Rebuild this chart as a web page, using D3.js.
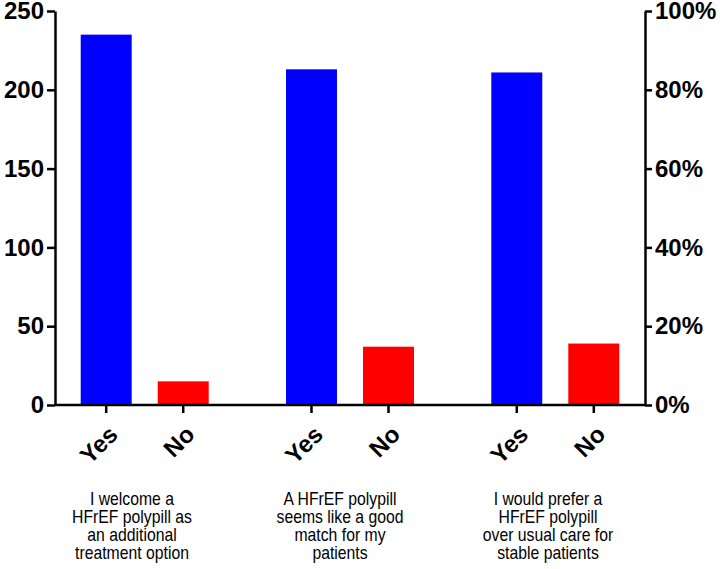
<!DOCTYPE html>
<html>
<head>
<meta charset="utf-8">
<script src="https://cdn.jsdelivr.net/npm/d3@7"></script>
<style>
  body { margin: 0; background: #fff; }
  svg { display: block; }
</style>
</head>
<body>
<div id="chart"></div>
<script>
var groups = ["g1", "g2", "g3"]
var answers = ["Yes", "No"]
var yesCounts = [235, 213, 211]
var noCounts = [15, 37, 39]
var groupLabels = [
  ["I welcome a", "HFrEF polypill as", "an additional", "treatment option"],
  ["A HFrEF polypill", "seems like a good", "match for my", "patients"],
  ["I would prefer a", "HFrEF polypill", "over usual care for", "stable patients"]
]
var leftTicks = [0, 50, 100, 150, 200, 250]
var rightTicks = [0, 0.2, 0.4, 0.6, 0.8, 1]

var width = 720,
    height = 569,
    plotLeft = 55, plotRight = 645, plotTop = 11, plotBottom = 405

var color = d3.scaleOrdinal().domain(answers).range(["#0000ff", "#ff0000"])

var svg = d3.select("#chart").append("svg")
    .attr("width", width)
    .attr("height", height)

// group positions and bars within a group
var x0 = d3.scalePoint().domain(groups).range([plotLeft, plotRight]).padding(0.437)
var x1 = d3.scaleBand().domain(answers).range([-64, 64]).paddingInner(0.338).paddingOuter(0)
// the question text sits a little left of each bar pair in the original
var xLabel = d3.scalePoint().domain(groups).range([132, 548])

var y = d3.scaleLinear().domain([0, 250]).range([plotBottom, plotTop])
var yPct = d3.scaleLinear().domain([0, 1]).range([plotBottom, plotTop])

var data = []
for (var i = 0; i < groups.length; i++) {
  data.push({ group: groups[i], answer: "Yes", value: yesCounts[i] })
  data.push({ group: groups[i], answer: "No", value: noCounts[i] })
}

svg.selectAll(".bar")
    .data(data)
    .enter().append("rect")
    .attr("class", "bar")
    .attr("x", function (d) { return x0(d.group) + x1(d.answer) })
    .attr("width", x1.bandwidth())
    .attr("y", function (d) { return y(d.value) })
    .attr("height", function (d) { return y(0) - y(d.value) })
    .style("fill", function (d) { return color(d.answer) })

var font = "'Liberation Sans', Arial, sans-serif"

// left axis
var gl = svg.append("g")
    .attr("transform", "translate(" + plotLeft + ",0)")
    .call(d3.axisLeft(y).tickValues(leftTicks).tickSize(8).tickPadding(3).tickSizeOuter(0))
// right axis
var gr = svg.append("g")
    .attr("transform", "translate(" + plotRight + ",0)")
    .call(d3.axisRight(yPct).tickValues(rightTicks).tickSize(7).tickPadding(3).tickSizeOuter(0)
      .tickFormat(d3.format(".0%")))

// bottom axis: a line plus ticks under each bar
var ticks = []
data.forEach(function (d) { ticks.push({ x: x0(d.group) + x1(d.answer) + x1.bandwidth() / 2, answer: d.answer }) })

svg.append("line")
    .attr("x1", plotLeft).attr("x2", plotRight)
    .attr("y1", plotBottom).attr("y2", plotBottom)
    .style("stroke", "#000").style("stroke-width", 2.5)

svg.selectAll(".xtick")
    .data(ticks)
    .enter().append("line")
    .attr("class", "xtick")
    .attr("x1", function (d) { return d.x }).attr("x2", function (d) { return d.x })
    .attr("y1", plotBottom).attr("y2", plotBottom + 8)
    .style("stroke", "#000").style("stroke-width", 2.5)

svg.selectAll(".xlab")
    .data(ticks)
    .enter().append("text")
    .attr("class", "xlab")
    .attr("transform", function (d) { return "translate(" + (d.x + 13) + "," + (plotBottom + 31) + ") rotate(-45)" })
    .attr("text-anchor", "end")
    .style("font-family", font)
    .style("font-weight", "bold")
    .style("font-size", "24px")
    .text(function (d) { return d.answer })

;[gl, gr].forEach(function (g) {
  g.select(".domain").style("stroke-width", 2.5)
  g.selectAll(".tick line").style("stroke-width", 2.5)
  g.selectAll(".tick text")
    .style("font-family", font)
    .style("font-weight", "bold")
    .style("font-size", "24px")
    .style("fill", "#000")
})

// question labels under each pair (condensed face in the original)
var qs = svg.selectAll(".question")
    .data(groups)
    .enter().append("text")
    .attr("class", "question")
    .attr("transform", function (d) { return "translate(" + xLabel(d) + ",0) scale(0.83,1)" })
    .attr("text-anchor", "middle")
    .style("font-family", font)
    .style("font-size", "19px")
    .style("fill", "#000")

qs.selectAll("tspan")
    .data(function (d, i) { return groupLabels[i] })
    .enter().append("tspan")
    .attr("x", 0)
    .attr("y", function (d, j) { return 505 + j * 18 })
    .text(function (d) { return d })
</script>
</body>
</html>
